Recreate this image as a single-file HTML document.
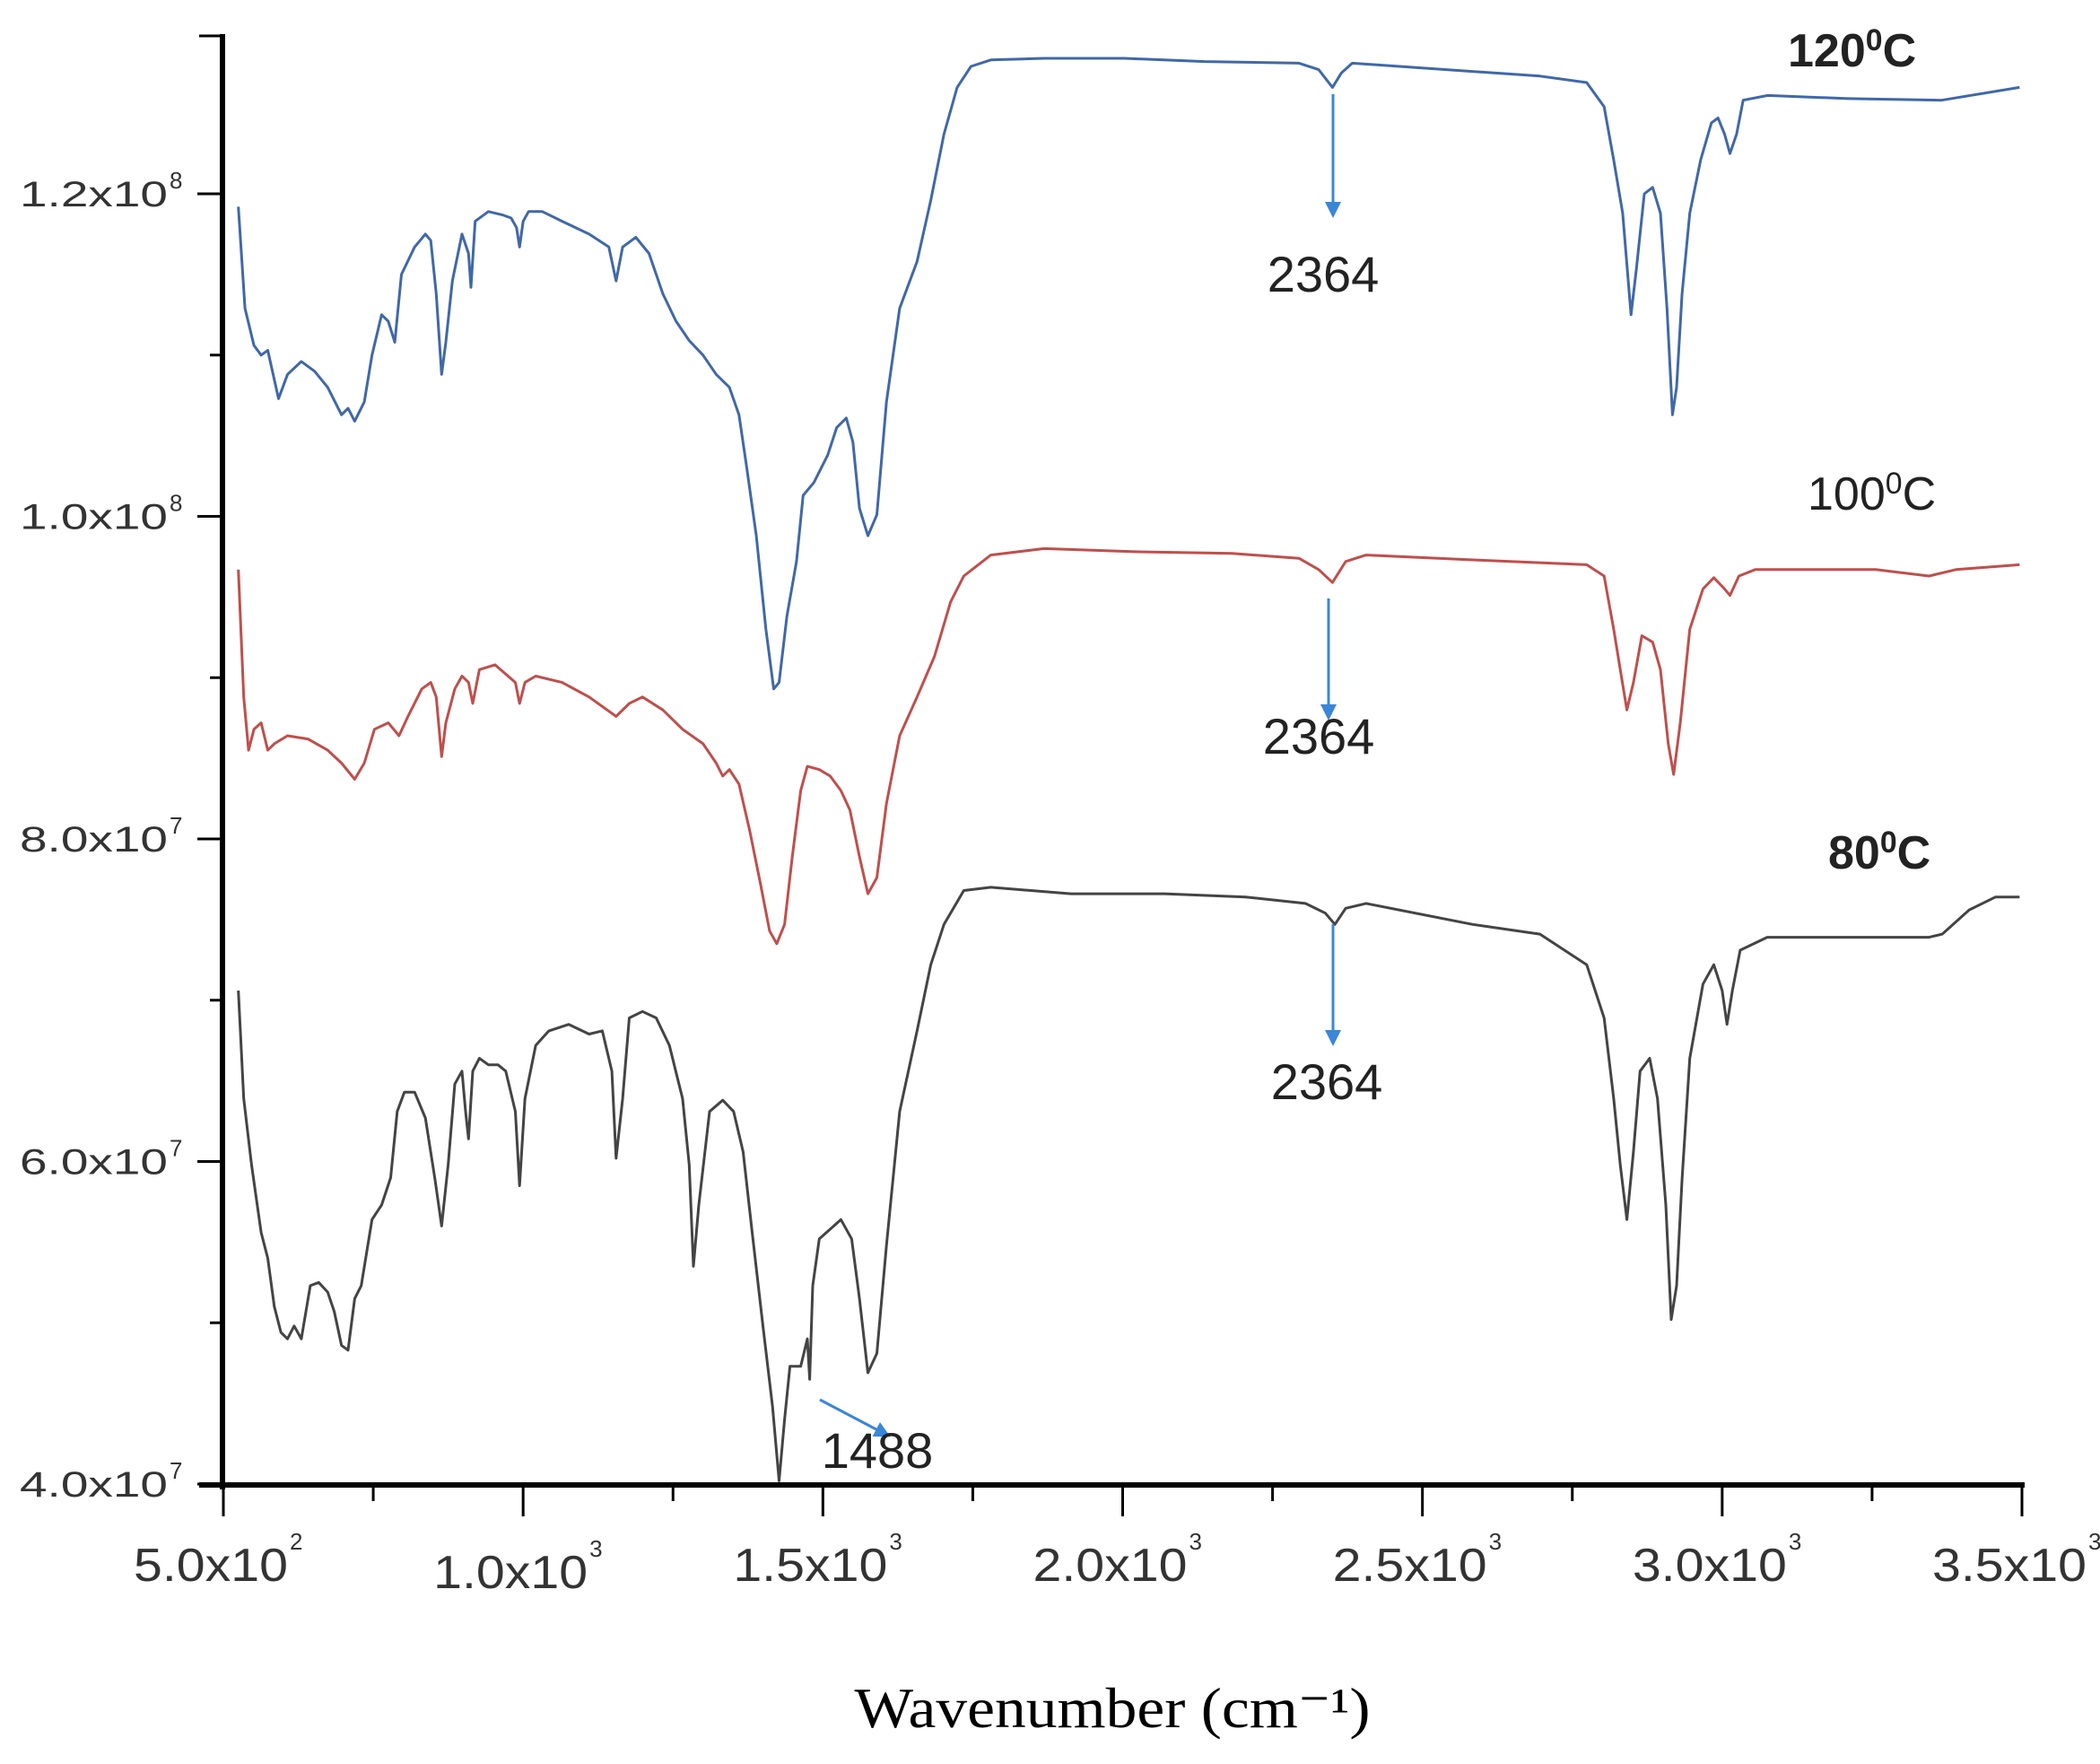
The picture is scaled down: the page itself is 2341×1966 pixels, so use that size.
<!DOCTYPE html>
<html><head><meta charset="utf-8"><style>
html,body{margin:0;padding:0;background:#fff;}
svg{display:block;}
</style></head><body>
<svg id="chart" width="2341" height="1966" viewBox="0 0 2341 1966" xmlns="http://www.w3.org/2000/svg">
<g id="axes"></g>
<g id="series"></g>
<g id="annot"></g>
</svg>
<script>
const xTicks = [500, 1000, 1500, 2000, 2500, 3000, 3500];
const xTickLabels = ["5.0x10", "1.0x10", "1.5x10", "2.0x10", "2.5x10", "3.0x10", "3.5x10"];
const xTickExp = ["2", "3", "3", "3", "3", "3", "3"];
const yTicks = [4, 6, 8, 10, 12];
const yTickLabels = ["4.0x10", "6.0x10", "8.0x10", "1.0x10", "1.2x10"];
const yTickExp = ["7", "7", "7", "8", "8"];

const wnBlue = [525,536,551,563,574,592,607,630,652,674,697,708,719,735,748,764,775,786,797,819,837,846,855,864,871,882,898,909,913,920,942,965,980,989,994,1000,1009,1032,1065,1110,1143,1155,1166,1188,1210,1233,1255,1277,1300,1322,1344,1360,1373,1389,1405,1418,1427,1440,1456,1467,1485,1508,1523,1539,1550,1561,1575,1590,1606,1628,1657,1680,1702,1724,1747,1780,1869,2003,2137,2294,2327,2350,2365,2383,2540,2696,2774,2803,2819,2834,2848,2857,2870,2884,2897,2908,2917,2924,2933,2946,2964,2982,2993,3004,3013,3024,3035,3076,3210,3366,3496];
const valBlue = [11.92,11.29,11.06,11.00,11.03,10.73,10.88,10.96,10.90,10.80,10.63,10.67,10.59,10.71,11.00,11.25,11.21,11.08,11.50,11.67,11.75,11.71,11.38,10.88,11.08,11.46,11.75,11.63,11.42,11.83,11.89,11.87,11.85,11.79,11.67,11.83,11.89,11.89,11.83,11.75,11.67,11.46,11.67,11.73,11.63,11.38,11.21,11.09,11.00,10.88,10.80,10.63,10.30,9.88,9.30,8.93,8.97,9.38,9.72,10.13,10.21,10.38,10.55,10.61,10.46,10.05,9.88,10.01,10.71,11.29,11.58,11.96,12.37,12.66,12.79,12.83,12.84,12.84,12.82,12.81,12.77,12.66,12.75,12.81,12.77,12.73,12.69,12.54,12.21,11.88,11.25,11.54,12.00,12.04,11.88,11.29,10.63,10.80,11.38,11.88,12.21,12.44,12.47,12.37,12.25,12.37,12.58,12.61,12.59,12.58,12.66];

const wnRed = [525,534,542,551,563,574,585,607,641,674,697,719,735,752,775,793,808,831,846,855,864,871,886,898,909,916,927,953,987,994,1003,1021,1065,1110,1155,1177,1199,1233,1266,1300,1322,1333,1344,1360,1378,1396,1411,1423,1436,1449,1463,1474,1494,1512,1530,1545,1561,1575,1590,1606,1628,1657,1686,1713,1735,1780,1869,2026,2182,2294,2327,2350,2372,2406,2584,2774,2803,2819,2830,2841,2852,2866,2884,2897,2910,2919,2930,2946,2968,2986,3004,3013,3028,3055,3256,3345,3390,3496];
const valRed = [9.67,8.88,8.55,8.68,8.72,8.55,8.59,8.64,8.62,8.55,8.47,8.37,8.47,8.68,8.72,8.64,8.76,8.93,8.97,8.88,8.51,8.72,8.93,9.01,8.97,8.84,9.05,9.08,8.97,8.84,8.97,9.01,8.97,8.88,8.76,8.84,8.88,8.80,8.68,8.59,8.47,8.39,8.43,8.34,8.05,7.72,7.43,7.35,7.47,7.89,8.30,8.45,8.43,8.39,8.30,8.18,7.89,7.66,7.76,8.22,8.64,8.88,9.13,9.47,9.63,9.76,9.80,9.78,9.77,9.74,9.67,9.59,9.72,9.76,9.73,9.70,9.63,9.30,9.05,8.80,8.97,9.26,9.22,9.05,8.59,8.40,8.72,9.30,9.55,9.62,9.55,9.51,9.63,9.67,9.67,9.63,9.67,9.70];

const wnBlack = [525,534,547,563,574,585,596,607,618,630,645,659,674,685,697,708,719,730,748,764,779,790,802,819,837,853,864,875,886,898,904,909,916,927,942,958,971,987,994,1003,1021,1043,1076,1110,1132,1148,1155,1166,1177,1199,1222,1244,1266,1277,1284,1293,1311,1333,1351,1367,1382,1400,1416,1427,1436,1445,1463,1474,1478,1483,1494,1512,1530,1548,1561,1575,1590,1606,1628,1657,1680,1702,1735,1780,1914,2070,2205,2305,2338,2354,2372,2406,2584,2696,2774,2803,2819,2830,2841,2852,2863,2879,2892,2906,2915,2924,2933,2946,2968,2986,3000,3008,3017,3030,3075,3165,3277,3345,3367,3412,3456,3496];
const valBlack = [7.06,6.39,5.98,5.56,5.40,5.10,4.94,4.90,4.98,4.90,5.23,5.25,5.19,5.07,4.86,4.83,5.15,5.23,5.64,5.73,5.90,6.31,6.43,6.43,6.27,5.89,5.60,5.98,6.48,6.56,6.31,6.14,6.56,6.64,6.60,6.60,6.56,6.31,5.85,6.39,6.72,6.81,6.85,6.79,6.81,6.56,6.02,6.39,6.89,6.93,6.89,6.72,6.39,5.98,5.35,5.73,6.31,6.38,6.31,6.06,5.56,4.98,4.48,4.02,4.40,4.73,4.73,4.90,4.65,5.23,5.52,5.58,5.64,5.52,5.15,4.69,4.81,5.48,6.31,6.81,7.22,7.47,7.68,7.70,7.66,7.66,7.64,7.60,7.54,7.47,7.57,7.60,7.47,7.41,7.22,6.89,6.39,5.98,5.64,6.06,6.56,6.64,6.39,5.73,5.02,5.23,5.89,6.64,7.10,7.22,7.06,6.85,7.06,7.31,7.39,7.39,7.39,7.39,7.41,7.56,7.64,7.64];

const NS = "http://www.w3.org/2000/svg";
const X0 = 249, X1 = 2254, Y0 = 1654, Y1 = 216;
function sx(w){ return X0 + (w - 500) / 3000 * (X1 - X0); }
function sy(v){ return Y0 - (v - 4) / 8 * (Y0 - Y1); }
function mk(tag, attrs, parent){ const e = document.createElementNS(NS, tag); for (const k in attrs) e.setAttribute(k, attrs[k]); parent.appendChild(e); return e; }

const axes = document.getElementById('axes');
let e;
e = mk('line', {x1:248, y1:38, x2:248, y2:1660, stroke:'#000', 'stroke-width':6}, axes);


e = mk('line', {x1:222, y1:1655, x2:2257, y2:1655, stroke:'#000', 'stroke-width':6}, axes);


e = mk('line', {x1:222, y1:40, x2:248, y2:40, stroke:'#000', 'stroke-width':3}, axes);



yTicks.forEach((v, i) => {
  const y = sy(v);
  let t = mk('line', {x1:220, y1:y, x2:248, y2:y, stroke:'#000', 'stroke-width':3}, axes);
  
  
  if (i < yTicks.length - 1) {
    const ym = sy(v + 1);
    let m = mk('line', {x1:234, y1:ym, x2:248, y2:ym, stroke:'#000', 'stroke-width':3}, axes);
    
    
  }
  const tx = mk('text', {x:22, y:y + 14, 'font-family':'Liberation Sans, sans-serif', 'font-size':40, fill:'#333', textLength:165, lengthAdjust:'spacingAndGlyphs'}, axes);
  tx.textContent = yTickLabels[i];
  
  
  const sp = mk('text', {x:189, y:y - 6, 'font-family':'Liberation Sans, sans-serif', 'font-size':26, fill:'#333'}, axes);
  sp.textContent = yTickExp[i];
  
  
});

xTicks.forEach((w, i) => {
  const x = sx(w);
  let t = mk('line', {x1:x, y1:1655, x2:x, y2:1690, stroke:'#000', 'stroke-width':3}, axes);
  
  
  if (i < xTicks.length - 1) {
    const xm = sx(w + 250);
    let m = mk('line', {x1:xm, y1:1655, x2:xm, y2:1673, stroke:'#000', 'stroke-width':3}, axes);
    
    
  }
  const tx = mk('text', {x:x - 100, y:1762 + (i === 1 ? 8 : 0), 'font-family':'Liberation Sans, sans-serif', 'font-size':52, fill:'#333', textLength:172, lengthAdjust:'spacingAndGlyphs'}, axes);
  tx.textContent = xTickLabels[i];
  
  
  const sp = mk('text', {x:x + 74, y:1727 + (i === 1 ? 8 : 0), 'font-family':'Liberation Sans, sans-serif', 'font-size':26, fill:'#333'}, axes);
  sp.textContent = xTickExp[i];
  
  
});

let title = mk('text', {x:1240, y:1925, 'text-anchor':'middle', 'font-family':'Liberation Serif, serif', 'font-size':64, fill:'#000', textLength:575, lengthAdjust:'spacingAndGlyphs'}, axes);
title.textContent = 'Wavenumber (cm\u207B\u00B9)';



const seriesG = document.getElementById('series');
function drawSeries(wn, vals, color, name){
  const d = wn.map((w, i) => (i ? 'L' : 'M') + sx(w).toFixed(1) + ' ' + sy(vals[i]).toFixed(1)).join(' ');
  const p = mk('path', {d:d, fill:'none', stroke:color, 'stroke-width':3, 'stroke-linejoin':'round'}, seriesG);
  
  
}
drawSeries(wnBlue, valBlue, '#4068a8', 'series-120c');
drawSeries(wnRed, valRed, '#bf4f4c', 'series-100c');
drawSeries(wnBlack, valBlack, '#444444', 'series-80c');

const an = document.getElementById('annot');
function label(txt, x, y, size, weight, name, anchor){
  const t = mk('text', {x:x, y:y, 'font-family':'Liberation Sans, sans-serif', 'font-size':size, 'font-weight':weight, fill:'#222', 'text-anchor':anchor || 'start'}, an);
  t.textContent = txt;
  
  
  return t;
}
function supLabel(base, x, y, size, weight, name){
  const t = mk('text', {x:x, y:y, 'font-family':'Liberation Sans, sans-serif', 'font-size':size, 'font-weight':weight, fill:'#222'}, an);
  const a = document.createElementNS(NS, 'tspan'); a.textContent = base; t.appendChild(a);
  const b = document.createElementNS(NS, 'tspan'); b.setAttribute('dy', -size * 0.35); b.setAttribute('font-size', size * 0.65); b.textContent = '0'; t.appendChild(b);
  const c = document.createElementNS(NS, 'tspan'); c.setAttribute('dy', size * 0.35); c.textContent = 'C'; t.appendChild(c);
  
  
}
supLabel('120', 1993, 74, 52, 'bold', 'label-120c');
supLabel('100', 2015, 568, 52, 'normal', 'label-100c');
supLabel('80', 2038, 968, 52, 'bold', 'label-80c');

const defs = mk('defs', {}, an);
const mkr = mk('marker', {id:'ah', markerWidth:6, markerHeight:6, refX:5, refY:3, orient:'auto', markerUnits:'strokeWidth'}, defs);
mk('path', {d:'M0 0 L6 3 L0 6 Z', fill:'#3a86d8'}, mkr);
function arrow(x1, y1, x2, y2, name){
  const l = mk('line', {x1:x1, y1:y1, x2:x2, y2:y2, stroke:'#3a86d8', 'stroke-width':3, 'marker-end':'url(#ah)'}, an);
  
  
}
arrow(1486, 105, 1486, 240, 'arrow-2364-120c');
arrow(1481, 667, 1481, 800, 'arrow-2364-100c');
arrow(1486, 1030, 1486, 1163, 'arrow-2364-80c');
arrow(914, 1560, 990, 1600, 'arrow-1488');
label('2364', 1475, 325, 56, 'normal', 'label-2364-120c', 'middle');
label('2364', 1470, 840, 56, 'normal', 'label-2364-100c', 'middle');
label('2364', 1479, 1225, 56, 'normal', 'label-2364-80c', 'middle');
label('1488', 978, 1636, 56, 'normal', 'label-1488', 'middle');
</script>
</body></html>
